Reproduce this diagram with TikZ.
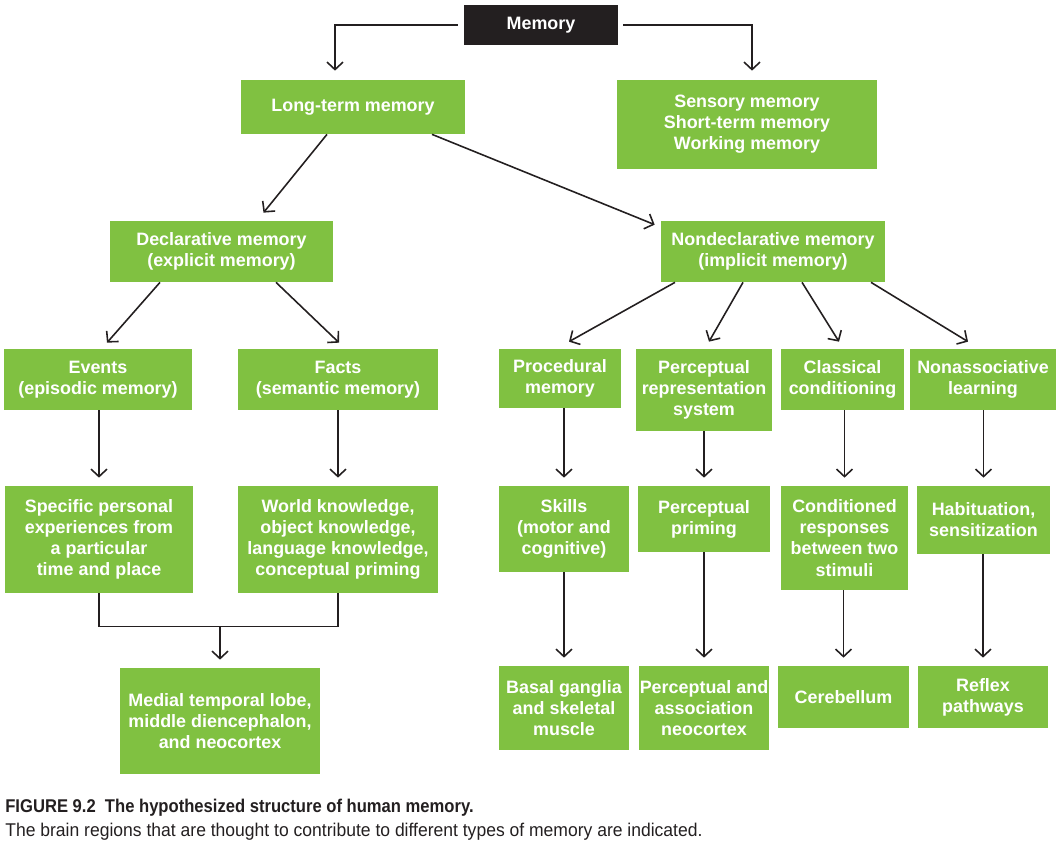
\documentclass[tikz,border=0pt]{standalone}
\usepackage{fontspec}
\setmainfont{Liberation Sans}
\newfontfamily\capfont[FakeStretch=0.95]{Liberation Sans}
\newfontfamily\capboldfont[FakeStretch=0.90]{Liberation Sans}
\usepackage{xcolor}
\usepackage{tikz}
\usetikzlibrary{positioning,arrows.meta,calc}
\definecolor{memGreen}{HTML}{80C141}
\definecolor{memInk}{HTML}{231F20}

\begin{document}
\begin{tikzpicture}[x=0.02cm,y=-0.02cm,
      box/.style={fill=memGreen,text=white,align=center,inner sep=0pt,
        font=\bfseries\fontsize{10.2}{12}\selectfont},
      sz/.style 2 args={minimum width=#1*0.02cm,minimum height=#2*0.02cm},
      ln/.style={draw=memInk,line width=0.9pt},
      arr/.style={ln,-{Straight Barb[length=0.15cm,width=0.32cm]}},
      arrv/.style={arr,shorten >=0.16cm}]
    \useasboundingbox (0,0) rectangle (1060,845);
    % top level
    \node[box,sz={154}{40},fill=memInk] (mem) at (541,25) {Memory};
    \node[box,sz={224}{54}] (ltm) at (353,107) {Long-term memory};
    \node[box,sz={260}{89}] (stm) at (747,124.5) {Sensory memory\\Short-term memory\\Working memory};
    \node[box,sz={223}{61}] (decl) at (221.5,251.5) {Declarative memory\\(explicit memory)};
    \node[box,sz={224}{61}] (nondecl) at (773,251.5) {Nondeclarative memory\\(implicit memory)};
    % second row
    \node[box,sz={188}{61}] (events) at (98,379.5) {Events\\(episodic memory)};
    \node[box,sz={200}{61}] (facts) at (338,379.5) {Facts\\(semantic memory)};
    \node[box,sz={122}{59}] (proc) at (560,378.5) {Procedural\\memory};
    \node[box,sz={136}{82}] (prs) at (704,390) {Perceptual\\representation\\system};
    \node[box,sz={123}{61}] (classical) at (842.5,379.5) {Classical\\conditioning};
    \node[box,sz={146}{61}] (nonassoc) at (983,379.5) {Nonassociative\\learning};
    % third row
    \node[box,sz={188}{107}] (specific) at (99,539.5) {Specific personal\\experiences from\\a particular\\time and place};
    \node[box,sz={200}{107}] (world) at (338,539.5) {World knowledge,\\object knowledge,\\language knowledge,\\conceptual priming};
    \node[box,sz={130}{86}] (skills) at (564,529) {Skills\\(motor and\\cognitive)};
    \node[box,sz={132}{66}] (percpriming) at (704,519) {Perceptual\\priming};
    \node[box,sz={127}{104}] (condresp) at (844.5,538) {Conditioned\\responses\\between two\\stimuli};
    \node[box,sz={133}{68}] (habit) at (983.5,520) {Habituation,\\sensitization};
    % brain regions
    \node[box,sz={200}{106}] (medial) at (220,721) {Medial temporal lobe,\\middle diencephalon,\\and neocortex};
    \node[box,sz={130}{84}] (basal) at (564,708) {Basal ganglia\\and skeletal\\muscle};
    \node[box,sz={130}{84}] (percassoc) at (704,708) {Perceptual and\\association\\neocortex};
    \node[box,sz={131}{62}] (cereb) at (843.5,697) {Cerebellum};
    \node[box,sz={130}{62}] (reflex) at (983,697) {Reflex\\pathways};

    % connectors
    \draw[arr] ([xshift=-0.12cm]mem.west) -| ($(ltm.north)+(-18,-9)$);
    \draw[arr] ([xshift=0.1cm]mem.east) -| ($(stm.north)+(5,-9)$);
    \draw[arr] ($(ltm.south)+(-26,0)$) -- ($(decl.north)+(42,-8)$);
    \draw[arr] ($(ltm.south)+(79,0)$) -- ($(nondecl.north west)+(-6,4)$);
    \draw[arr] ($(decl.south)+(-61.5,0)$) -- ($(events.north)+(9,-6)$);
    \draw[arr] ($(decl.south)+(54.5,0)$) -- ($(facts.north)+(1,-6)$);
    \draw[arr] ($(nondecl.south)+(-98,0)$) -- ($(proc.north)+(9,-7)$);
    \draw[arr] ($(nondecl.south)+(-30,0)$) -- ($(prs.north)+(5,-7)$);
    \draw[arr] ($(nondecl.south)+(29,0)$) -- ($(classical.north)+(-3.5,-7)$);
    \draw[arr] ($(nondecl.south)+(98,0)$) -- ($(nonassoc.north)+(-15,-7)$);
    \foreach \a/\b in {events/specific,facts/world,proc/skills,skills/basal,
        prs/percpriming,percpriming/percassoc,classical/condresp,condresp/cereb,
        nonassoc/habit,habit/reflex}
      \draw[arrv] (\a.south -| \b.north) -- (\b.north);
    \coordinate (join) at ($(specific.south)+(0,33)$);
    \draw[ln] (specific.south) -- (join) -| (world.south);
    \draw[arrv] (join -| medial.north) -- (medial.north);

    % caption
    \node[anchor=base west,inner sep=0pt,text=memInk,
      font=\capboldfont\bfseries\fontsize{10.5}{13}\selectfont] (capA) at (5,812)
      {FIGURE 9.2\hspace{0.5em}The hypothesized structure of human memory.};
    \node[anchor=base west,inner sep=0pt,text=memInk,
      font=\capfont\fontsize{10.5}{13}\selectfont] (capB) at (5,836)
      {The brain regions that are thought to contribute to different types of memory are indicated.};
  \end{tikzpicture}
\end{document}
